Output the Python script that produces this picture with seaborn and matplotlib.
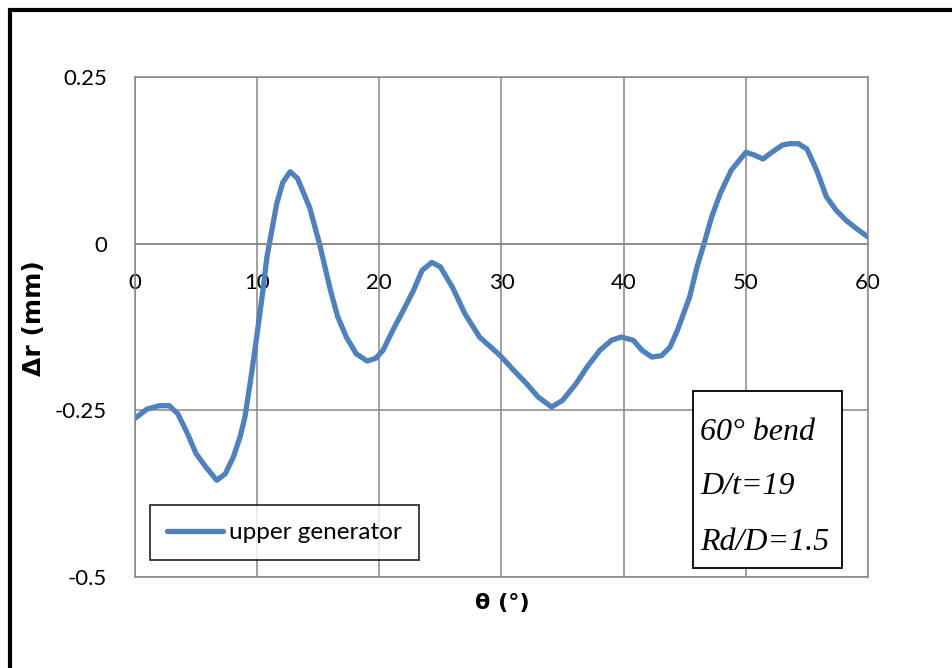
import matplotlib
matplotlib.use("Agg")
import matplotlib.pyplot as plt
import matplotlib.patches as mpatches
import seaborn as sns
import pandas as pd

# Radial deviation along the upper generator of the bend
theta = [0, 1.0, 2.0, 2.8, 3.5, 4.3, 5.0, 5.8, 6.7, 7.4, 8.05, 8.6, 9.0, 9.5,
         9.96, 10.4, 10.8, 11.2, 11.6, 12.1, 12.7, 13.3, 14.3, 15.1, 16.0, 16.6,
         17.3, 18.1, 19.0, 19.7, 20.3, 21.1, 21.96, 22.8, 23.5, 24.3, 25.0, 26.0,
         27.0, 28.2, 29.9, 31.0, 32.05, 33.0, 34.1, 35.0, 36.1, 37.0, 38.05, 39.0,
         39.8, 40.8, 41.5, 42.3, 43.1, 43.8, 44.4, 44.9, 45.4, 46.0, 46.5, 47.2,
         47.9, 48.8, 50.0, 50.7, 51.4, 52.2, 53.0, 53.6, 54.3, 55.0, 55.8, 56.6,
         57.4, 58.2, 59.1, 60.0]
delta_r = [-0.262, -0.248, -0.243, -0.243, -0.255, -0.285, -0.315, -0.335, -0.355,
           -0.345, -0.32, -0.29, -0.26, -0.2, -0.14, -0.08, -0.02, 0.02, 0.06, 0.092,
           0.108, 0.098, 0.054, 0.0, -0.07, -0.11, -0.14, -0.165, -0.176, -0.172,
           -0.16, -0.13, -0.10, -0.07, -0.04, -0.028, -0.035, -0.066, -0.105, -0.14,
           -0.168, -0.19, -0.21, -0.23, -0.245, -0.235, -0.21, -0.185, -0.16, -0.145,
           -0.14, -0.145, -0.16, -0.17, -0.168, -0.155, -0.13, -0.105, -0.08, -0.035,
           -0.005, 0.04, 0.075, 0.11, 0.137, 0.133, 0.127, 0.138, 0.148, 0.15, 0.15,
           0.142, 0.11, 0.07, 0.05, 0.035, 0.022, 0.01]

x_ticks = [0, 10, 20, 30, 40, 50, 60]
y_ticks = [-0.5, -0.25, 0, 0.25]
y_tick_labels = ["-0.5", "-0.25", "0", "0.25"]
series_name = "upper generator"
case_lines = ["60° bend", "D/t=19", "Rd/D=1.5"]

df = pd.DataFrame({"theta": theta, "dr": delta_r})

sns.set_theme(style="white")
plt.rcParams["font.family"] = ["Lato", "DejaVu Sans"]
plt.rcParams["text.color"] = "black"

W, H = 952, 668
fig = plt.figure(figsize=(W / 100, H / 100), dpi=100)


def fx(px):
    return px / W


def fy(py):
    return 1 - py / H


ax = fig.add_axes([fx(135), fy(577), fx(868) - fx(135), fy(77) - fy(577)])

grid_c = "#878787"
sns.lineplot(data=df, x="theta", y="dr", ax=ax, color="#4F81BD", lw=3.8,
             label=series_name, legend=False, solid_joinstyle="round",
             solid_capstyle="round")

ax.set_xlim(0, 60)
ax.set_ylim(-0.5, 0.25)
ax.set_xticks(x_ticks)
ax.set_xticklabels([str(v) for v in x_ticks])
ax.set_yticks(y_ticks)
ax.set_yticklabels(y_tick_labels)
ax.grid(True, color=grid_c, lw=1.1)
ax.set_axisbelow(True)

# horizontal axis crosses at zero, as in the spreadsheet layout
ax.spines["bottom"].set_position(("data", 0))
for s in ax.spines.values():
    s.set_color(grid_c)
    s.set_linewidth(1.1)
ax.axhline(-0.5, color=grid_c, lw=1.1, clip_on=False, zorder=0.5)

ax.tick_params(axis="x", length=0, pad=21, labelsize=16, colors="black")
ax.tick_params(axis="y", length=0, pad=20, labelsize=16, colors="black")
ax.set_xlabel("")
ax.set_ylabel("")

fig.text(fx(34), fy(318), "Δr (mm)", rotation=90, ha="center", va="center",
         fontsize=18, fontweight="bold", family="DejaVu Sans", color="black")
fig.text(fx(502), fy(603), "θ (°)", ha="center", va="center",
         fontsize=16, fontweight="bold", family="DejaVu Sans", color="black")

leg = ax.legend(loc="upper left", bbox_to_anchor=(fx(150), fy(505)),
                bbox_transform=fig.transFigure, borderaxespad=0,
                frameon=True, fancybox=False, edgecolor="black",
                prop={"family": "Lato", "size": 17.5}, handlelength=2.3,
                handletextpad=0.25, borderpad=0.7)
leg.get_frame().set_linewidth(1.3)
for t in leg.get_texts():
    t.set_color("black")

# case description box
fig.patches.append(mpatches.Rectangle((fx(693), fy(568)), fx(842) - fx(693),
                                      fy(391) - fy(568), transform=fig.transFigure,
                                      fill=True, facecolor="white",
                                      edgecolor="black", lw=1.3, zorder=5))
for txt, base in zip(case_lines, [440, 494, 550]):
    fig.text(fx(700), fy(base), txt, ha="left", va="baseline", color="black",
             family="Liberation Serif", style="italic", fontsize=23, zorder=6)

# outer frame of the figure
fig.patches.append(mpatches.Rectangle((fx(10.3), fy(H + 20)), 1.2, fy(9.5) - fy(H + 20),
                                      transform=fig.transFigure, fill=False,
                                      edgecolor="black", lw=3.0, zorder=10))

fig.savefig("out.png", dpi=100)
